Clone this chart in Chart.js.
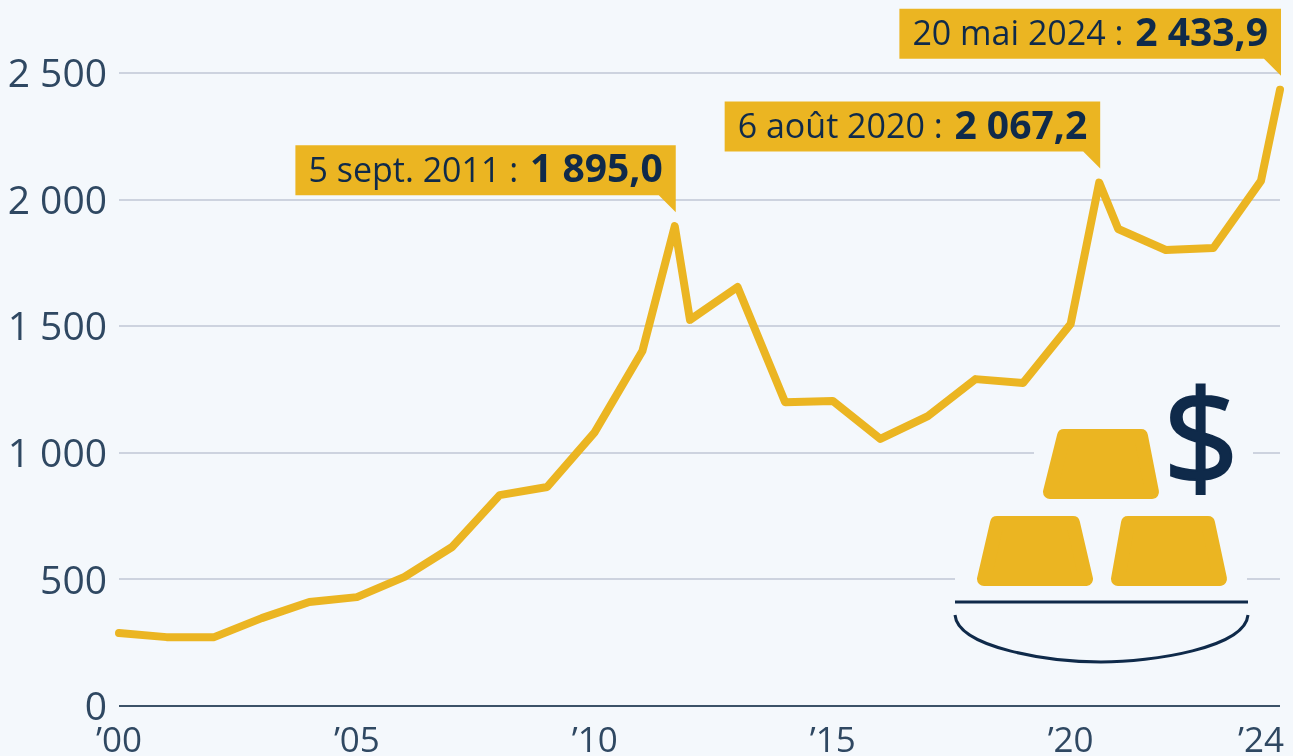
<!DOCTYPE html>
<html lang="fr">
<head>
<meta charset="utf-8">
<title>Cours de l'or</title>
<script src="https://cdn.jsdelivr.net/npm/chart.js@4"></script>
<style>
    html, body { margin: 0; padding: 0; background: #f4f8fc; }
    #wrap { position: relative; width: 1293px; height: 756px; overflow: hidden; }
    #goldIcon { position: absolute; left: 0; top: 0; pointer-events: none; }
</style>
</head>
<body>
<div id="wrap">
    <canvas id="goldChart" width="1293" height="756"></canvas>
    <!-- Icône : lingots et dollar, par-dessus le graphique -->
    <svg id="goldIcon" width="1293" height="756">
        <rect x="1034" y="420" width="219" height="84" fill="#f4f8fc"/>
        <rect x="955" y="510" width="292" height="88" fill="#f4f8fc"/>
        <g fill="#ebb522" stroke="#ebb522" stroke-width="14" stroke-linejoin="round">
            <polygon points="1064,436 1141,436 1152,492 1050,492"/>
            <polygon points="997,523 1073,523 1086,579 984,579"/>
            <polygon points="1128,523 1208,523 1220,579 1118,579"/>
        </g>
        <line x1="955" y1="602" x2="1248" y2="602" stroke="#0f2a4a" stroke-width="3"/>
        <path d="M955 615 C958 648 1050 662 1101 662 C1152 662 1245 648 1248 615" fill="none" stroke="#0f2a4a" stroke-width="3"/>
        <text x="1201" y="486" text-anchor="middle" font-family="Open Sans" font-size="134" fill="#0f2a4a" stroke="#0f2a4a" stroke-width="2">$</text>
    </svg>
</div>
<script>
// Cours de l'or en dollars
const years = [2000, 2001, 2002, 2003, 2004, 2005, 2006, 2007, 2008, 2009, 2010, 2011, 2011.68, 2012, 2013, 2014, 2015, 2016, 2017, 2018, 2019, 2020, 2020.6, 2021, 2022, 2023, 2024, 2024.4];
const prices = [288, 272, 272, 347, 411, 430, 510, 628, 833, 865, 1082, 1402, 1895, 1525, 1655, 1200, 1205, 1055, 1145, 1291, 1276, 1509, 2067.2, 1884, 1801, 1809, 2074, 2433.9];

const xTicks = [2000, 2005, 2010, 2015, 2020, 2024];
const xTickLabels = ['’00', '’05', '’10', '’15', '’20', '’24'];
const yTicks = [0, 500, 1000, 1500, 2000, 2500];
const yTickLabels = ['0', '500', '1 000', '1 500', '2 000', '2 500'];

// Étiquettes des records
const calloutYears = [2011.68, 2020.6, 2024.4];
const calloutValues = [1895, 2067.2, 2433.9];
const calloutDates = ['5 sept. 2011 : ', '6 août 2020 : ', '20 mai 2024 : '];
const calloutLabels = ['1 895,0', '2 067,2', '2 433,9'];

const GOLD = '#ebb522';
const NAVY = '#0f2a4a';
const TICK_COLOR = '#2f4862';

const calloutPlugin = {
    id: 'callouts',
    afterDatasetsDraw(chart) {
        const { ctx, scales } = chart;
        ctx.save();
        calloutYears.forEach((year, i) => {
            const tipX = scales.x.getPixelForValue(year) + 1;
            const tipY = scales.y.getPixelForValue(calloutValues[i]) - 14;
            const regular = '34px "Open Sans"';
            const bold = 'bold 39px "Open Sans"';
            ctx.font = regular;
            const w1 = ctx.measureText(calloutDates[i]).width + 3;
            ctx.font = bold;
            const w2 = ctx.measureText(calloutLabels[i]).width;
            const boxW = w1 + w2 + 26;
            const boxBottom = tipY - 17;
            const boxTop = boxBottom - 50;

            ctx.fillStyle = GOLD;
            ctx.beginPath();
            ctx.moveTo(tipX - boxW, boxTop);
            ctx.lineTo(tipX, boxTop);
            ctx.lineTo(tipX, tipY);
            ctx.lineTo(tipX - 17, boxBottom);
            ctx.lineTo(tipX - boxW, boxBottom);
            ctx.closePath();
            ctx.fill();

            ctx.fillStyle = NAVY;
            ctx.textBaseline = 'middle';
            ctx.textAlign = 'left';
            ctx.font = regular;
            ctx.fillText(calloutDates[i], tipX - boxW + 13, boxTop + 27);
            ctx.font = bold;
            ctx.fillText(calloutLabels[i], tipX - boxW + 13 + w1, boxTop + 26);
        });
        ctx.restore();
    }
};

document.addEventListener('DOMContentLoaded', function() {
    const goldCtx = document.getElementById('goldChart').getContext('2d');
    new Chart(goldCtx, {
        type: 'line',
        data: {
            datasets: [{
                label: 'Cours de l\'or',
                data: years.map((year, i) => ({ x: year, y: prices[i] })),
                borderColor: GOLD,
                borderWidth: 8,
                borderJoinStyle: 'round',
                borderCapStyle: 'round',
                pointRadius: 0,
                tension: 0,
                clip: false
            }]
        },
        options: {
            responsive: false,
            animation: false,
            layout: { padding: { top: 73, right: 13, left: 0, bottom: 0 } },
            plugins: { legend: { display: false }, tooltip: { enabled: false } },
            scales: {
                x: {
                    type: 'linear',
                    min: 2000,
                    max: 2024.4,
                    grid: { display: false },
                    border: { display: false },
                    afterBuildTicks(scale) {
                        scale.ticks = xTicks.map(value => ({ value }));
                    },
                    afterFit(scale) { scale.height = 50; },
                    ticks: {
                        autoSkip: false,
                        maxRotation: 0,
                        padding: 7,
                        color: TICK_COLOR,
                        font: { family: 'Open Sans', size: 35 },
                        callback: value => xTickLabels[xTicks.indexOf(value)]
                    }
                },
                y: {
                    min: 0,
                    max: 2500,
                    border: { display: false },
                    afterBuildTicks(scale) {
                        scale.ticks = yTicks.map(value => ({ value }));
                    },
                    afterFit(scale) { scale.width = 119; },
                    grid: {
                        drawTicks: false,
                        lineWidth: 2,
                        color: ctx => ctx.tick.value === 0 ? '#3c5268' : '#cdd3df'
                    },
                    ticks: {
                        padding: 12,
                        labelOffset: 3,
                        color: TICK_COLOR,
                        font: { family: 'Open Sans', size: 39 },
                        callback: value => yTickLabels[yTicks.indexOf(value)]
                    }
                }
            }
        },
        plugins: [calloutPlugin]
    });
});
</script>
</body>
</html>
